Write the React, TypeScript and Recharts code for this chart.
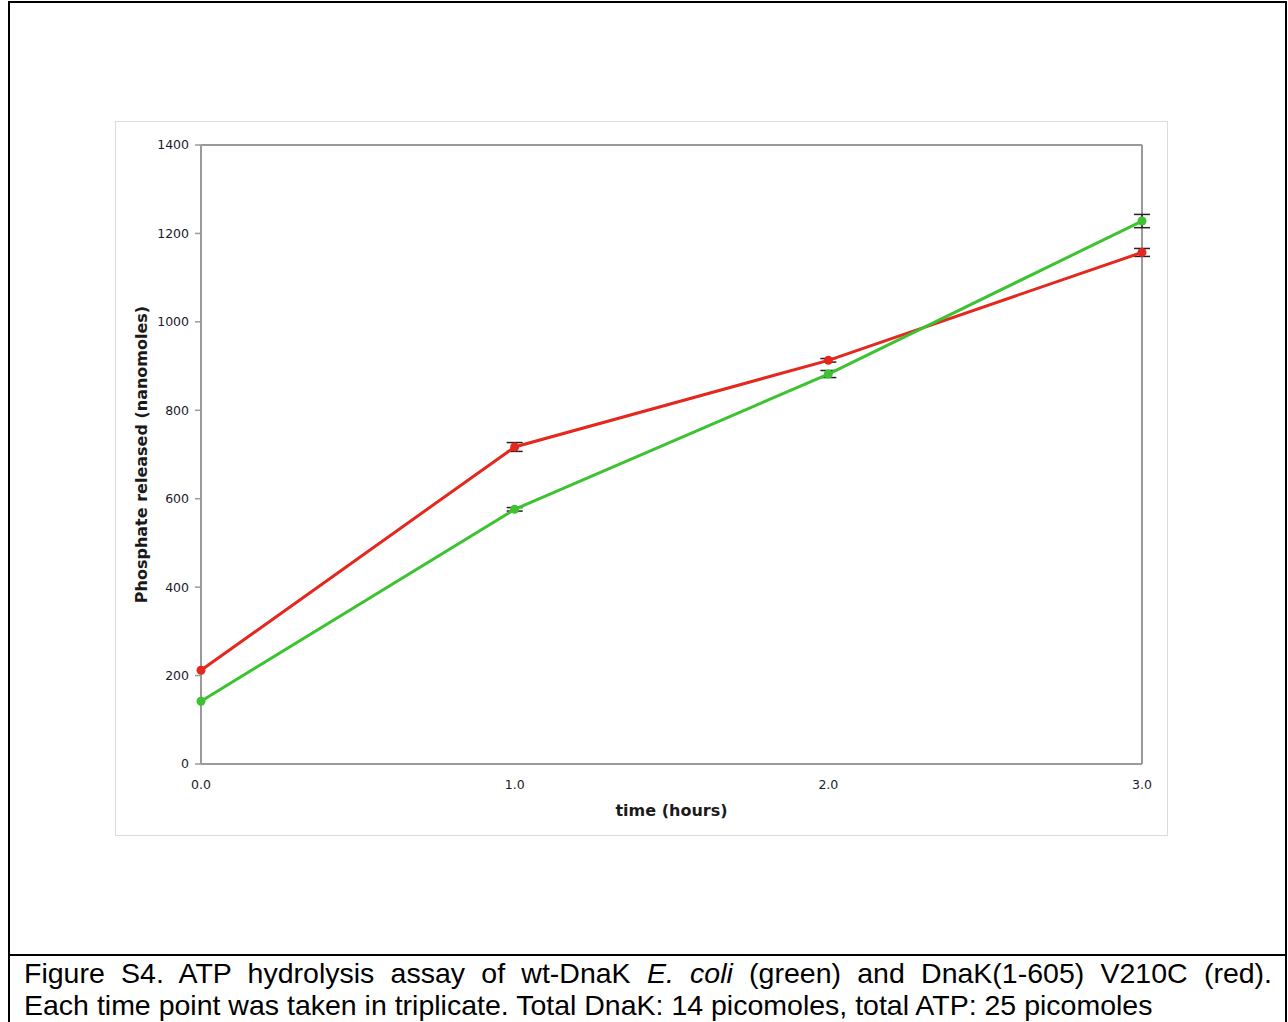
import { LineChart, Line, XAxis, YAxis, ErrorBar, ReferenceLine } from 'recharts'

const hours = [0, 1, 2, 3]
const wtDnaK = [142, 576, 882, 1228]
const wtDnaKErr = [null, 4, 8, 15]
const v210c = [212, 717, 913, 1157]
const v210cErr = [null, 10, 4, 9]
const yTicks = [0, 200, 400, 600, 800, 1000, 1200, 1400]

const data = hours.map((t, i) => ({
  t,
  wt: wtDnaK[i],
  wtErr: wtDnaKErr[i],
  mut: v210c[i],
  mutErr: v210cErr[i],
}))

const AXIS = '#9a9a9a'
const RED = '#e4281d'
const GREEN = '#3dc232'
const tickStyle = { fontSize: 12.5, fill: '#1a1a2a', fontFamily: 'DejaVu Sans' }

export default function App() {
  return (
    <div style={{ position: 'fixed', left: 0, top: 0, width: 1288, height: 1022, overflow: 'hidden', background: '#fff' }}>
      <div style={{ position: 'absolute', left: 8, top: 1, width: 1279, height: 1060, border: '2px solid #000', boxSizing: 'border-box' }} />
      <div style={{ position: 'absolute', left: 8, top: 954, width: 1279, height: 2, background: '#000' }} />
      <div style={{ position: 'absolute', left: 115, top: 121, width: 1053, height: 715, border: '1.5px solid #dcdcdc', boxSizing: 'border-box' }} />
      <div style={{ position: 'absolute', left: 115, top: 121 }}>
        <LineChart width={1053} height={715} data={data} margin={{ top: 24, right: 26, left: 26, bottom: 12 }}>
          <XAxis
            dataKey="t"
            type="number"
            domain={[0, 3]}
            ticks={hours}
            tickFormatter={(v: number) => v.toFixed(1)}
            tick={tickStyle}
            tickLine={false}
            tickSize={0}
            tickMargin={16}
            height={60}
            axisLine={{ stroke: AXIS, strokeWidth: 2 }}
            label={{ value: 'time (hours)', position: 'insideBottom', offset: 8, style: { fontSize: 16, fontWeight: 'bold', fill: '#1a1a1a', fontFamily: 'DejaVu Sans' } }}
          />
          <YAxis
            type="number"
            domain={[0, 1400]}
            ticks={yTicks}
            tick={tickStyle}
            tickSize={6}
            tickMargin={6}
            width={60}
            tickLine={{ stroke: AXIS, strokeWidth: 1.5 }}
            axisLine={{ stroke: AXIS, strokeWidth: 2 }}
            label={{ value: 'Phosphate released (nanomoles)', angle: -90, position: 'insideLeft', offset: 0, style: { textAnchor: 'middle', fontSize: 16, fontWeight: 'bold', fill: '#1a1a1a', fontFamily: 'DejaVu Sans' } }}
          />
          <ReferenceLine y={1400} stroke={AXIS} strokeWidth={2} />
          <ReferenceLine x={3} stroke={AXIS} strokeWidth={2} />
          <Line dataKey="mut" stroke={RED} strokeWidth={3} dot={{ r: 4.5, fill: RED, stroke: 'none' }} isAnimationActive={false}>
            <ErrorBar dataKey="mutErr" width={8} stroke="#222" strokeWidth={1.5} direction="y" isAnimationActive={false} />
          </Line>
          <Line dataKey="wt" stroke={GREEN} strokeWidth={3} dot={{ r: 4.5, fill: GREEN, stroke: 'none' }} isAnimationActive={false}>
            <ErrorBar dataKey="wtErr" width={8} stroke="#222" strokeWidth={1.5} direction="y" isAnimationActive={false} />
          </Line>
        </LineChart>
      </div>
      <div style={{ position: 'absolute', left: 24, top: 957, width: 1248, fontFamily: '"Liberation Sans", Arial, sans-serif', fontSize: 28.5, lineHeight: '32px', color: '#000' }}>
        <div style={{ textAlign: 'justify', textAlignLast: 'justify', whiteSpace: 'nowrap' }}>
          Figure S4. ATP hydrolysis assay of wt-DnaK <i>E. coli</i> (green) and DnaK(1-605) V210C (red).
        </div>
        <div style={{ whiteSpace: 'nowrap' }}>Each time point was taken in triplicate. Total DnaK: 14 picomoles, total ATP: 25 picomoles</div>
      </div>
    </div>
  )
}
